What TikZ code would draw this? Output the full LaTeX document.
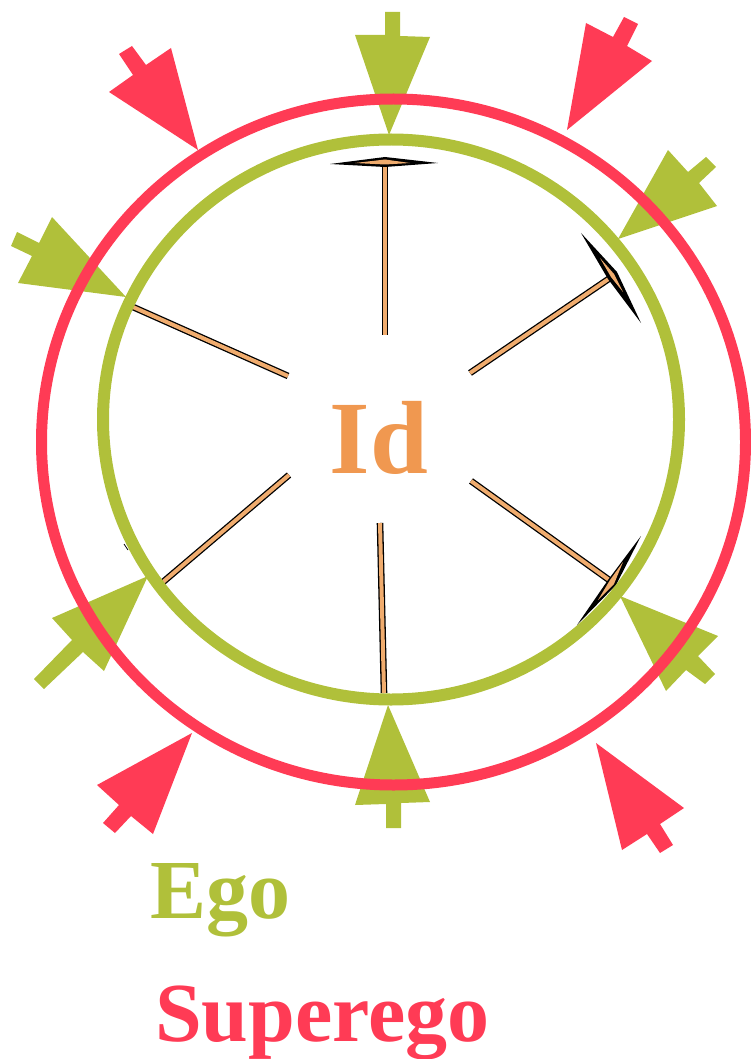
\documentclass[tikz,border=0pt]{standalone}
\usepackage{fontspec}
\setmainfont{Liberation Serif}
\definecolor{ringred}{RGB}{255,59,85}
\definecolor{ringgreen}{RGB}{176,192,58}
\definecolor{idorange}{RGB}{240,152,80}
\definecolor{spokeorange}{RGB}{240,172,110}
\tikzset{
  greenarrow/.style={fill=ringgreen,draw=none},
  redarrow/.style={fill=ringred,draw=none},
  spoke/.style={draw=black,line width=1.3pt,double=spokeorange,double distance=4pt},
  tbar/.style={fill=black,draw=none},
  tcap/.style={fill=spokeorange,draw=none},
  label/.style={inner sep=0pt,anchor=base west,font=\bfseries\fontsize{84}{90}\selectfont}
}
\begin{document}
\begin{tikzpicture}[x=1pt,y=-1pt]
\useasboundingbox (0,0) rectangle (750,1059);
% green arrows
\fill[greenarrow] (385,12)--(400,12)--(400,36)--(430,37)--(389,135)--(355,35)--(385,35)--cycle;
\fill[greenarrow] (386,828)--(401,828)--(401,803)--(430,802)--(388,705)--(355,805)--(386,804)--cycle;
\fill[greenarrow] (706,157)--(716,167)--(699,183)--(717,206)--(618,239)--(668,150)--(688,172)--cycle;
\fill[greenarrow] (17,232)--(39,243)--(52,217)--(126,297)--(18,283)--(32,256)--(11,246)--cycle;
\fill[greenarrow] (34,679)--(72,640)--(52,618)--(148,576)--(104,671)--(83,652)--(44,689)--cycle;
\fill[greenarrow] (715,674)--(698,656)--(718,636)--(620,596)--(666,691)--(686,670)--(705,684)--cycle;
% spokes
\draw[spoke] (385,165)--(385,335);
\draw[spoke] (470,373)--(613,276);
\draw[spoke] (133,307)--(288,376);
\draw[spoke] (289,475)--(163,582);
\draw[spoke] (471,481)--(612,582);
\draw[spoke] (380,523)--(384,693);
% T bars
\fill[tbar] (330,164)--(385,157)--(438,163)--(385,167)--cycle;
\fill[tcap] (355,163)--(385,159.5)--(410,163)--(385,164.5)--cycle;
\fill[tbar] (581,233)--(617,272)--(641,323)--(608,279)--cycle;
\fill[tcap] (600,258)--(614,274)--(623,292)--(611,277)--cycle;
\fill[tbar] (641,536)--(616,585)--(577,625)--(608,580)--cycle;
\fill[tcap] (623,562)--(614,584)--(598,600)--(610,580)--cycle;
\draw[black,line width=0.8pt] (124,544)--(128,550);
% rings
\draw[ringgreen,line width=12pt] (391,419.5) ellipse [x radius=288, y radius=280];
\draw[ringred,line width=11pt] (393.5,442) ellipse [x radius=352, y radius=343];
% red arrows
\fill[redarrow] (119,54)--(132,46)--(146,65)--(171,48)--(198,150)--(109,92)--(133,75)--cycle;
\fill[redarrow] (624,17)--(638,24)--(627,46)--(652,61)--(567,130)--(586,23)--(613,37)--cycle;
\fill[redarrow] (103,823)--(119,805)--(97,785)--(192,733)--(153,834)--(131,816)--(115,833)--cycle;
\fill[redarrow] (673,845)--(660,824)--(684,808)--(596,743)--(622,850)--(647,834)--(660,853)--cycle;
% texts
\node[inner sep=0pt,anchor=base,text=idorange,font=\bfseries\fontsize{104}{110}\selectfont] (id) at (379,473) {Id};
\node[label,text=ringgreen] (ego) at (150,918) {Ego};
\node[label,text=ringred] (superego) at (155,1041) {Superego};
\end{tikzpicture}
\end{document}
